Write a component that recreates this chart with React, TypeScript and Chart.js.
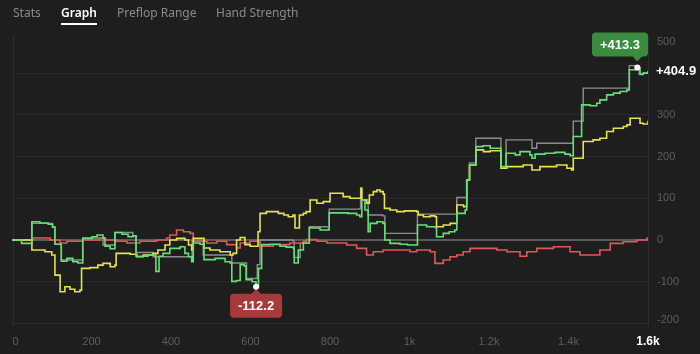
import React, { useEffect, useRef } from "react";
import { Chart, registerables } from "chart.js";

Chart.register(...registerables);

const tabs = ["Stats", "Graph", "Preflop Range", "Hand Strength"];
const tabLeft = [13, 61, 117, 216];
const activeTab = 1;

const xTickValues = [0, 200, 400, 600, 800, 1000, 1200, 1400, 1600];
const xTickLabels = ["0", "200", "400", "600", "800", "1k", "1.2k", "1.4k", "1.6k"];
const yTickValues = [-200, -100, 0, 100, 200, 300, 400, 500];

// [hand, cumulative winnings] — green: net won
const netWon: [number, number][] = [
  [0, 0], [24, -8], [50, 44], [70, 41], [91, 38], [102, 31], [108, -10], [124, -51], [138, -44], [153, -52],
  [166, -55], [178, 4], [201, 8], [214, 12], [229, 5], [234, -15], [247, -21], [259, 18], [277, 14], [292, 8],
  [304, 10], [312, -39], [342, -36], [362, -75], [370, -39], [380, -32], [397, -20], [423, -16], [435, -32], [444, -40],
  [452, -52], [456, -7], [473, -10], [483, -47], [511, -44], [536, -52], [549, -55], [553, -99], [565, -97], [574, -59],
  [584, -62], [589, -95], [604, -100], [614, -112.2], [620, -68], [628, -11], [649, -10], [674, -15], [690, -17], [707, -19],
  [710, -55], [720, -24], [733, -7], [748, 29], [775, 24], [796, 25], [798, 65], [825, 65], [845, 64], [867, 60],
  [875, 56], [880, 96], [888, 72], [896, 20], [901, 40], [918, 44], [933, 40], [938, 0], [951, -8], [976, -10],
  [995, -12], [1018, -12], [1020, 36], [1043, 32], [1065, 30], [1068, 8], [1085, 16], [1100, 20], [1114, 24], [1119, 64],
  [1140, 72], [1144, 144], [1151, 180], [1167, 224], [1185, 226], [1203, 220], [1230, 176], [1243, 208], [1266, 204], [1278, 212],
  [1303, 204], [1308, 196], [1316, 206], [1341, 208], [1366, 210], [1391, 206], [1404, 202], [1412, 248], [1433, 324], [1454, 322],
  [1471, 328], [1479, 336], [1496, 348], [1513, 352], [1530, 356], [1547, 360], [1553, 408], [1573, 413.3], [1580, 397], [1588, 400],
  [1600, 404.9],
];

// gray: all-in adjusted
const allInEv: [number, number][] = [
  [0, 0], [50, 40], [102, 31], [108, -10], [124, -48], [178, 5], [229, -12], [259, 18], [304, 10], [312, -30],
  [355, -40], [453, -3], [481, -36], [553, -55], [590, -92], [617, -59], [624, 0], [707, -2], [710, -42], [725, -8],
  [748, 32], [798, 74], [875, 76], [877, 124], [880, 96], [896, 60], [933, 58], [938, 16], [1020, 62], [1119, 102],
  [1144, 144], [1151, 185], [1167, 244], [1230, 172], [1243, 240], [1308, 220], [1320, 232], [1412, 285], [1437, 364], [1553, 418],
  [1578, 397], [1588, 400], [1600, 404.9],
];

// yellow: showdown winnings
const showdown: [number, number][] = [
  [0, 0], [50, -24], [83, -28], [100, -36], [108, -84], [121, -124], [133, -112], [146, -118], [158, -124], [171, -120],
  [175, -68], [196, -66], [216, -60], [229, -56], [247, -64], [259, -60], [262, -32], [297, -34], [314, -40], [330, -36],
  [355, -32], [367, -24], [385, -12], [397, 0], [414, 4], [435, 0], [444, -12], [452, -24], [456, 4], [483, -19],
  [498, -24], [523, -28], [549, -36], [556, -32], [565, 0], [574, 6], [586, -11], [599, -15], [619, 20], [624, 64],
  [640, 68], [670, 64], [684, 60], [695, 56], [707, 60], [712, 29], [723, 60], [733, 64], [740, 68], [750, 96],
  [767, 88], [783, 92], [800, 112], [817, 112], [833, 104], [850, 100], [876, 100], [878, 124], [880, 96], [892, 88],
  [899, 108], [909, 116], [918, 120], [926, 116], [934, 110], [937, 76], [951, 72], [968, 68], [987, 70], [1018, 68],
  [1022, 60], [1035, 56], [1052, 58], [1064, 56], [1068, 32], [1085, 36], [1102, 40], [1119, 84], [1136, 80], [1144, 144],
  [1151, 180], [1167, 216], [1186, 212], [1203, 214], [1230, 172], [1245, 176], [1286, 180], [1308, 168], [1328, 176], [1370, 180],
  [1396, 172], [1408, 168], [1412, 196], [1437, 236], [1462, 240], [1479, 244], [1496, 260], [1513, 268], [1538, 272], [1547, 276],
  [1555, 292], [1580, 280], [1588, 278], [1600, 286],
];

// red: non-showdown winnings
const nonShowdown: [number, number][] = [
  [0, 0], [54, 5], [96, 0], [121, -7], [138, -3], [179, 0], [221, 5], [235, 0], [263, -3], [289, -7],
  [322, -3], [364, 0], [389, 5], [397, 12], [414, 24], [431, 20], [448, 16], [456, -3], [490, -7], [515, -3],
  [540, -11], [565, -19], [574, -7], [599, -3], [624, -15], [657, -11], [699, -7], [733, -3], [741, 1], [767, -3],
  [792, -7], [842, -12], [867, -20], [892, -36], [909, -28], [934, -24], [1001, -28], [1018, -24], [1052, -28], [1064, -56],
  [1085, -48], [1102, -40], [1119, -36], [1135, -28], [1152, -20], [1186, -20], [1220, -24], [1245, -28], [1278, -39], [1295, -28],
  [1320, -20], [1362, -16], [1404, -28], [1429, -36], [1471, -36], [1479, -24], [1505, -8], [1538, -4], [1572, 0], [1597, 4],
  [1600, 6],
];

const BG = "#1e1e1e";
const GREEN = "#66df78";
const GRAY = "#8e8e8e";
const YELLOW = "#e6e24e";
const RED = "#e05858";
const FONT = "'Liberation Sans', Arial, sans-serif";

const fmt = (v: number) => (v > 0 ? "+" : "") + v.toFixed(1);

function roundRect(ctx: CanvasRenderingContext2D, x: number, y: number, w: number, h: number, r: number) {
  ctx.beginPath();
  ctx.moveTo(x + r, y);
  ctx.lineTo(x + w - r, y);
  ctx.quadraticCurveTo(x + w, y, x + w, y + r);
  ctx.lineTo(x + w, y + h - r);
  ctx.quadraticCurveTo(x + w, y + h, x + w - r, y + h);
  ctx.lineTo(x + r, y + h);
  ctx.quadraticCurveTo(x, y + h, x, y + h - r);
  ctx.lineTo(x, y + r);
  ctx.quadraticCurveTo(x, y, x + r, y);
  ctx.closePath();
}

const overlayPlugin = {
  id: "overlay",
  beforeDatasetsDraw(chart: any) {
    const { ctx, chartArea: ca } = chart;
    ctx.save();
    ctx.strokeStyle = "#2e2e2e";
    ctx.lineWidth = 1;
    ctx.beginPath();
    ctx.moveTo(ca.left + 1.5, ca.top);
    ctx.lineTo(ca.left + 1.5, ca.bottom);
    ctx.moveTo(ca.right + 0.5, ca.top);
    ctx.lineTo(ca.right + 0.5, ca.bottom);
    ctx.stroke();
    ctx.restore();
  },
  afterDraw(chart: any) {
    const { ctx, chartArea: ca } = chart;
    const xs = chart.scales.x;
    const ys = chart.scales.y;
    ctx.save();

    ctx.textBaseline = "middle";
    ctx.textAlign = "center";
    xTickValues.forEach((v, i) => {
      const last = i === xTickValues.length - 1;
      const label = xTickLabels[i];
      ctx.font = last ? `bold 12px ${FONT}` : `11px ${FONT}`;
      ctx.fillStyle = last ? "#ffffff" : "#5e5e5e";
      const w = ctx.measureText(label).width;
      let px = xs.getPixelForValue(v);
      px = Math.max(px, ca.left + w / 2 + 0.5);
      ctx.fillText(label, px, 342);
    });

    const lastVal = netWon[netWon.length - 1][1];
    const lastY = ys.getPixelForValue(lastVal);

    ctx.textAlign = "left";
    ctx.font = `11px ${FONT}`;
    ctx.fillStyle = "#5e5e5e";
    yTickValues.forEach((v) => {
      let py = ys.getPixelForValue(v);
      py = Math.min(Math.max(py, ca.top + 6), ca.bottom - 6);
      if (Math.abs(py - lastY) < 12) return;
      ctx.fillText(String(v), 657, py);
    });

    ctx.font = `bold 13px ${FONT}`;
    ctx.fillStyle = "#ffffff";
    ctx.fillText(fmt(lastVal), 656, lastY);

    let maxP = netWon[0];
    let minP = netWon[0];
    netWon.forEach((p) => {
      if (p[1] > maxP[1]) maxP = p;
      if (p[1] < minP[1]) minP = p;
    });

    const drawBadge = (p: [number, number], above: boolean, color: string) => {
      const px = xs.getPixelForValue(p[0]);
      const py = ys.getPixelForValue(p[1]);
      const text = fmt(p[1]);
      ctx.font = `bold 13px ${FONT}`;
      const w = Math.round(ctx.measureText(text).width + 16);
      const h = 24;
      let bx = px - w / 2;
      bx = Math.min(Math.max(bx, ca.left), ca.right - w);
      const by = above ? py - 11 - h : py + 7;
      ctx.fillStyle = color;
      roundRect(ctx, bx, by, w, h, 4);
      ctx.fill();
      ctx.beginPath();
      if (above) {
        ctx.moveTo(px - 5, by + h - 0.5);
        ctx.lineTo(px + 5, by + h - 0.5);
        ctx.lineTo(px, by + h + 5);
      } else {
        ctx.moveTo(px - 5, by + 0.5);
        ctx.lineTo(px + 5, by + 0.5);
        ctx.lineTo(px, by - 5);
      }
      ctx.closePath();
      ctx.fill();
      ctx.fillStyle = "#ffffff";
      ctx.textAlign = "center";
      ctx.textBaseline = "middle";
      ctx.fillText(text, bx + w / 2, by + h / 2 + 1);
      ctx.beginPath();
      ctx.arc(px, py, 3, 0, Math.PI * 2);
      ctx.fill();
    };
    drawBadge(maxP, true, "#3a8c3f");
    drawBadge(minP, false, "#a73a3a");

    ctx.restore();
  },
};

function ChartView() {
  const ref = useRef<HTMLCanvasElement | null>(null);
  useEffect(() => {
    if (!ref.current) return;
    const toXY = (arr: [number, number][]) => arr.map(([x, y]) => ({ x, y }));
    const mk = (label: string, arr: [number, number][], color: string, width: number, order: number) => ({
      label,
      data: toXY(arr),
      borderColor: color,
      backgroundColor: color,
      borderWidth: width,
      pointRadius: 0,
      stepped: true as const,
      fill: false,
      order,
    });
    const chart = new Chart(ref.current, {
      type: "line",
      data: {
        datasets: [
          mk("Net won", netWon, GREEN, 1.6, 0),
          mk("Showdown", showdown, YELLOW, 1.6, 1),
          mk("Non-showdown", nonShowdown, RED, 1.6, 2),
          mk("All-in EV", allInEv, GRAY, 1.4, 3),
        ],
      },
      options: {
        animation: false,
        responsive: false,
        maintainAspectRatio: false,
        events: [],
        layout: { padding: { left: 12, right: 52, top: 36, bottom: 28 } },
        plugins: { legend: { display: false }, tooltip: { enabled: false } },
        scales: {
          x: {
            type: "linear",
            min: 0,
            max: 1600,
            display: false,
          },
          y: {
            type: "linear",
            position: "right",
            min: -206,
            max: 489,
            afterBuildTicks: (scale: any) => {
              scale.ticks = yTickValues.filter((v) => v >= scale.min && v <= scale.max).map((v) => ({ value: v }));
            },
            ticks: { display: false },
            border: { display: false },
            grid: {
              drawTicks: false,
              color: (c: any) => (c.tick && c.tick.value === 0 ? "#5a5a5a" : "#2a2a2a"),
              lineWidth: (c: any) => (c.tick && c.tick.value === 0 ? 2 : 1),
            },
          },
        },
      },
      plugins: [overlayPlugin],
    } as any);
    return () => chart.destroy();
  }, []);
  return <canvas ref={ref} width={700} height={354} style={{ position: "absolute", left: 0, top: 0, width: 700, height: 354 }} />;
}

export default function App() {
  return (
    <div style={{ position: "fixed", left: 0, top: 0, width: 700, height: 354, background: BG, overflow: "hidden" }}>
      <ChartView />
      {tabs.map((t, i) => (
        <div
          key={t}
          style={{
            position: "absolute",
            left: tabLeft[i],
            top: 4,
            fontFamily: "'Noto Sans', sans-serif",
            fontSize: 12,
            lineHeight: "17px",
            fontWeight: i === activeTab ? 600 : 400,
            color: i === activeTab ? "#ffffff" : "#8a8a8a",
            whiteSpace: "nowrap",
          }}
        >
          {t}
          {i === activeTab && (
            <div style={{ position: "absolute", left: 0, right: 0, top: 19, height: 2, background: "#ffffff" }} />
          )}
        </div>
      ))}
    </div>
  );
}
